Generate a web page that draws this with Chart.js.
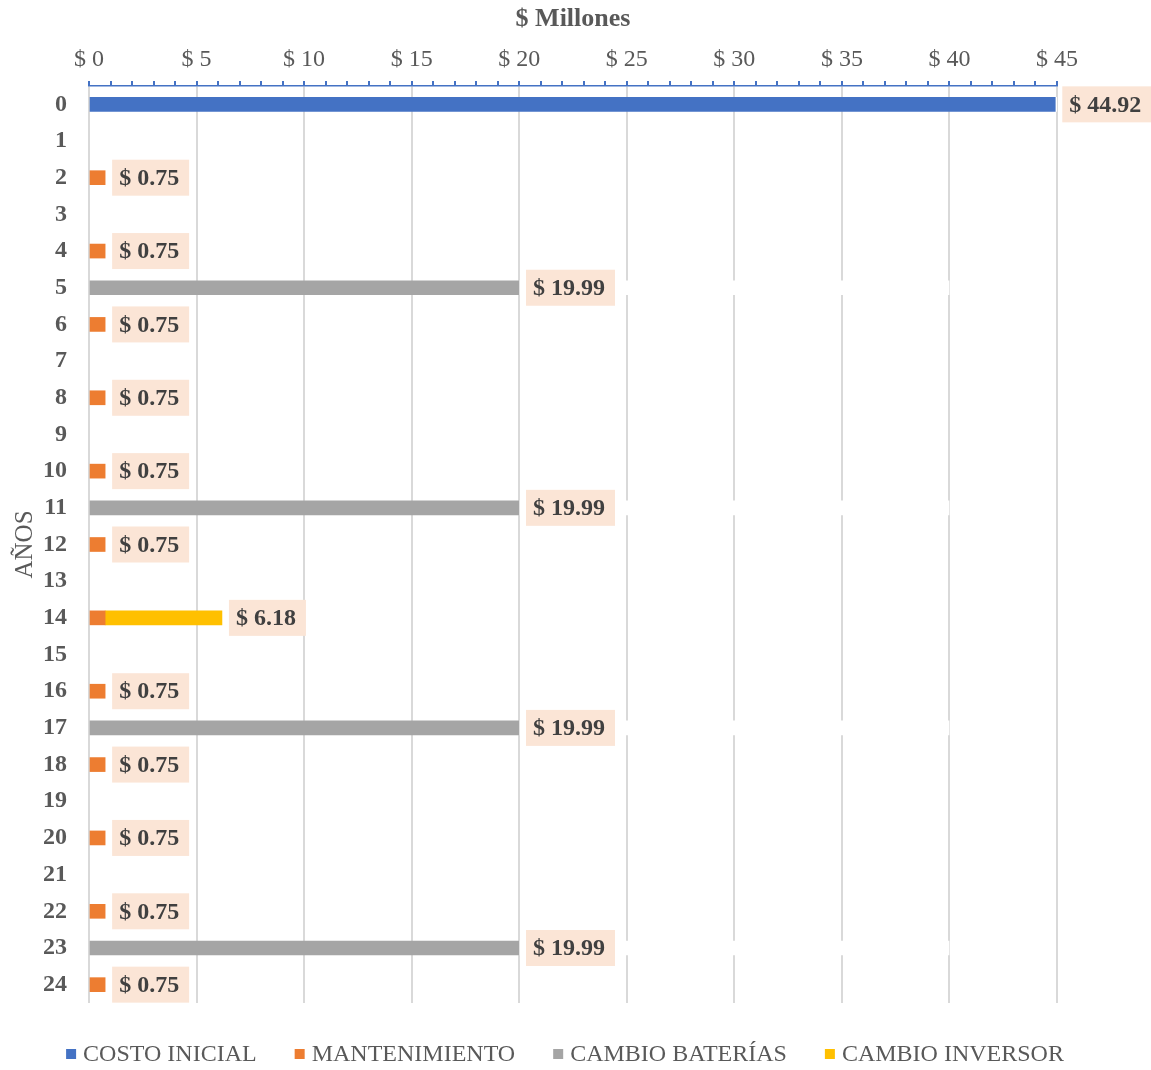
<!DOCTYPE html>
<html><head><meta charset="utf-8">
<script src="https://cdn.jsdelivr.net/npm/chart.js@4.4.1/dist/chart.umd.min.js"></script>
<style>html,body{margin:0;padding:0;background:#fff}canvas{display:block}</style>
</head><body>
<canvas id="c" width="1151" height="1070"></canvas>
<script>
const years = ['0','1','2','3','4','5','6','7','8','9','10','11','12','13','14','15','16','17','18','19','20','21','22','23','24'];
const costoInicial   = [44.92,0,0,0,0,0,0,0,0,0,0,0,0,0,0,0,0,0,0,0,0,0,0,0,0];
const mantenimiento  = [0,0,0.75,0,0.75,0,0.75,0,0.75,0,0.75,0,0.75,0,0.75,0,0.75,0,0.75,0,0.75,0,0.75,0,0.75];
const cambioBaterias = [0,0,0,0,0,19.99,0,0,0,0,0,19.99,0,0,0,0,0,19.99,0,0,0,0,0,19.99,0];
const cambioInversor = [0,0,0,0,0,0,0,0,0,0,0,0,0,0,5.43,0,0,0,0,0,0,0,0,0,0];
const seriesNames = ['COSTO INICIAL','MANTENIMIENTO','CAMBIO BATERÍAS','CAMBIO INVERSOR'];
const seriesColors = ['#4472C4','#ED7D31','#A5A5A5','#FFC000'];
const xTickStep = 5;

const totals = years.map((_, i) => +(costoInicial[i] + mantenimiento[i] + cambioBaterias[i] + cambioInversor[i]).toFixed(2));
const nz = (arr) => arr.map(v => (v ? v : null));

const FAM = '"Liberation Serif", "Times New Roman", serif';
const TXT = '#595959';

const labelPlugin = {
  id: 'totLabels',
  afterDatasetsDraw(chart) {
    const {ctx, scales: {x, y}} = chart;
    ctx.save();
    ctx.font = 'bold 24px ' + FAM;
    ctx.textBaseline = 'middle';
    ctx.textAlign = 'left';
    totals.forEach((t, i) => {
      if (!t) return;
      const txt = '$ ' + t.toFixed(2);
      const w = ctx.measureText(txt).width + 17;
      const x0 = x.getPixelForValue(t) + 7;
      const yc = y.getPixelForValue(i);
      ctx.fillStyle = '#FBE5D6';
      ctx.fillRect(x0, yc - 18, w, 36);
      ctx.fillStyle = '#404040';
      ctx.fillText(txt, x0 + 7, yc + 1);
    });
    ctx.restore();
  }
};

const legendPlugin = {
  id: 'bottomLegend',
  afterDraw(chart) {
    const ctx = chart.ctx;
    ctx.save();
    ctx.font = '24px ' + FAM;
    ctx.textBaseline = 'middle';
    ctx.textAlign = 'left';
    const items = chart.data.datasets.slice(0, 4).map(d => ({text: d.label, color: d.backgroundColor, w: ctx.measureText(d.label).width}));
    const gapBox = 7, box = 10, gapItem = 38;
    const total = items.reduce((s, it) => s + box + gapBox + it.w, 0) + gapItem * (items.length - 1);
    let xPos = 565 - total / 2;
    const yc = 1054;
    items.forEach(it => {
      ctx.fillStyle = it.color;
      ctx.fillRect(xPos, yc - 5, box, box);
      ctx.fillStyle = TXT;
      ctx.fillText(it.text, xPos + box + gapBox, yc + 1);
      xPos += box + gapBox + it.w + gapItem;
    });
    ctx.restore();
  }
};

new Chart(document.getElementById('c'), {
  type: 'bar',
  data: {
    labels: years,
    datasets: [
      {label: seriesNames[0], data: nz(costoInicial), backgroundColor: seriesColors[0], barThickness: 14},
      {label: seriesNames[1], data: nz(mantenimiento), backgroundColor: seriesColors[1], barThickness: 14},
      {label: seriesNames[2], data: nz(cambioBaterias), backgroundColor: seriesColors[2], barThickness: 14},
      {label: seriesNames[3], data: nz(cambioInversor), backgroundColor: seriesColors[3], barThickness: 14},
      {label: 'TOTAL', data: nz(totals), backgroundColor: '#FFFFFF', barThickness: 14}
    ]
  },
  options: {
    indexAxis: 'y',
    responsive: false,
    animation: false,
    layout: {padding: {left: 0, right: 94, top: 0, bottom: 67}},
    plugins: {
      tooltip: {enabled: false},
      legend: {display: false}
    },
    scales: {
      x: {
        type: 'linear', position: 'top', min: 0, max: 45, stacked: true,
        ticks: {
          stepSize: 1, autoSkip: false, maxRotation: 0, minRotation: 0,
          callback: (v) => (v % xTickStep === 0 ? '$ ' + v : ''),
          font: {family: FAM, size: 24}, color: TXT, padding: 7
        },
        grid: {
          color: (c) => (c.tick && c.tick.value % xTickStep === 0 ? '#D9D9D9' : 'rgba(0,0,0,0)'),
          lineWidth: 2, tickColor: '#4472C4', tickLength: 5, drawTicks: true
        },
        border: {color: '#4472C4', width: 1.5},
        title: {display: true, text: '$ Millones', font: {family: FAM, size: 26, weight: 'bold'}, color: TXT, padding: {top: 4, bottom: 0}},
        afterFit(s) { s.height = 86; }
      },
      y: {
        type: 'category', stacked: true,
        grid: {display: false},
        border: {display: false},
        ticks: {font: {family: FAM, size: 24, weight: 'bold'}, color: TXT, padding: 14, autoSkip: false},
        title: {display: true, text: 'AÑOS', font: {family: FAM, size: 25}, color: TXT, padding: {top: 10, bottom: 0}},
        afterFit(s) { s.width = 89; }
      }
    }
  },
  plugins: [labelPlugin, legendPlugin]
});
</script>
</body></html>
